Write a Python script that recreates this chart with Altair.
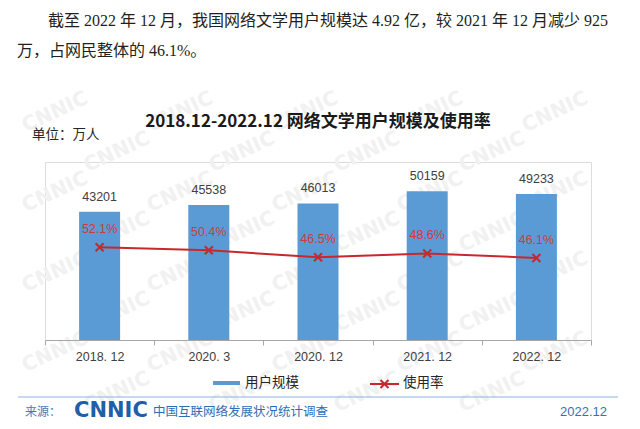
import altair as alt
import pandas as pd

# ---- data ----
categories = ["2018. 12", "2020. 3", "2020. 12", "2021. 12", "2022. 12"]
users = [43201, 45538, 46013, 50159, 49233]
rates = [0.521, 0.504, 0.465, 0.486, 0.461]
rate_labels = ["52.1%", "50.4%", "46.5%", "48.6%", "46.1%"]

para_line1 = "截至 2022 年 12 月，我国网络文学用户规模达 4.92 亿，较 2021 年 12 月减少 925"
para_line2 = "万，占网民整体的 46.1%。"
title_text = "2018.12-2022.12 网络文学用户规模及使用率"
unit_text = "单位：万人"
legend_bar = "用户规模"
legend_line = "使用率"
footer_src = "来源："
footer_logo = "CNNIC"
footer_survey = "中国互联网络发展状况统计调查"
footer_date = "2022.12"

df = pd.DataFrame({"cat": categories, "users": users, "rate": rates, "rate_label": rate_labels})

W, H = 546, 178
BLUE = "#5b9bd5"
RED = "#c8282d"
SANS = "Liberation Sans, Noto Sans CJK SC"
CJK = "Noto Sans CJK SC"
XPATH = "M-1,-1L1,1M-1,1L1,-1"

x_enc = alt.X(
    "cat:N", sort=categories,
    scale=alt.Scale(paddingInner=0, paddingOuter=0),
    axis=alt.Axis(title=None, labelAngle=0, tickBand="extent", tickSize=5,
                  tickColor="#a6a6a6", domainColor="#a6a6a6", labelFont=SANS,
                  labelFontSize=12.5, labelColor="#404040", labelPadding=5, zindex=1),
)
y_users = alt.Y("users:Q", scale=alt.Scale(domain=[0, 60000]), axis=None)
y_rate = alt.Y("rate:Q", scale=alt.Scale(domain=[0, 1]), axis=None)

base = alt.Chart(df)
bars = base.mark_bar(size=41, color=BLUE).encode(x=x_enc, y=y_users)
bar_text = base.mark_text(dy=-15, font=SANS, fontSize=12.5, color="#404040").encode(
    x=alt.X("cat:N", sort=categories), y=y_users, text=alt.Text("users:Q", format="d"))
bar_layer = alt.layer(bars, bar_text)

line = base.mark_line(color=RED, strokeWidth=2).encode(x=alt.X("cat:N", sort=categories), y=y_rate)
pts = base.mark_point(shape=XPATH, size=64, strokeWidth=2, color=RED, filled=False, opacity=1).encode(
    x=alt.X("cat:N", sort=categories), y=y_rate)
rate_text = base.mark_text(dy=-18, font=SANS, fontSize=12.5, color="#d23a3a").encode(
    x=alt.X("cat:N", sort=categories), y=y_rate, text="rate_label:N")
rate_layer = alt.layer(line, pts, rate_text)

main = alt.layer(bar_layer, rate_layer).resolve_scale(y="independent")

# ---- watermark (decoration) ----
wm_rows = []
for i in range(8):
    for j in range(6):
        px = 10 + j * 125 + (i % 2) * 62
        py = -50 + i * 40
        if px <= 540:
            wm_rows.append({"px": px, "py": py, "t": "CNNIC"})
wm = alt.Chart(pd.DataFrame(wm_rows)).mark_text(
    font="DejaVu Sans", fontWeight="bold", fontSize=20, color="#f1f1f1", angle=335
).encode(x=alt.X("px:Q", scale=None, axis=None), y=alt.Y("py:Q", scale=None, axis=None), text="t:N")


def label(text, x, y, **kw):
    return alt.Chart(pd.DataFrame({"t": [text]})).mark_text(baseline="middle", **kw).encode(
        x=alt.value(x), y=alt.value(y), text="t:N")


def hline(x1, x2, y, color, width):
    return alt.Chart(pd.DataFrame({"a": [0]})).mark_rule(color=color, strokeWidth=width).encode(
        x=alt.value(x1), x2=alt.value(x2), y=alt.value(y))


deco = [
    label(para_line1, 3, -141, align="left", font="Liberation Serif, Noto Sans CJK SC", fontSize=16, color="#231f20"),
    label(para_line2, -28, -111, align="left", font="Liberation Serif, Noto Sans CJK SC", fontSize=16, color="#231f20"),
    label(title_text, 273, -40, align="center", font=CJK, fontSize=17, fontWeight="bold", color="#1a1a1a"),
    label(unit_text, -13, -27, align="left", font=CJK, fontSize=13.5, color="#262626"),
    hline(168, 195, 221, BLUE, 4),
    label(legend_bar, 200, 221, align="left", font=CJK, fontSize=13.5, color="#262626"),
    hline(325, 354, 222, RED, 2),
    alt.Chart(pd.DataFrame({"a": [0]})).mark_point(shape=XPATH, size=64, strokeWidth=2, color=RED, filled=False, opacity=1).encode(
        x=alt.value(339.5), y=alt.value(222)),
    label(legend_line, 358, 221, align="left", font=CJK, fontSize=13.5, color="#262626"),
    hline(-27, 573, 235, "#8db3e2", 1),
    label(footer_src, -20, 250, align="left", font=CJK, fontSize=12, color="#4a78b5"),
    label(footer_logo, 29, 249, align="left", font="DejaVu Sans", fontWeight="bold", fontSize=21, color="#1f5fa8"),
    label(footer_survey, 108, 250, align="left", font=CJK, fontSize=12.5, color="#2e6db4"),
    label(footer_date, 562, 250, align="right", font=SANS, fontSize=13, color="#3d6fb0"),
]

chart = alt.layer(wm, main, *deco).resolve_scale(x="independent", y="independent").properties(
    width=W, height=H,
    autosize=alt.AutoSizeParams(type="none"),
    padding={"left": 37, "top": 154, "right": 41, "bottom": 81},
).configure_view(stroke=None).configure(background="white")

chart.save("out.html", embed_options={"renderer": "svg", "actions": False})
